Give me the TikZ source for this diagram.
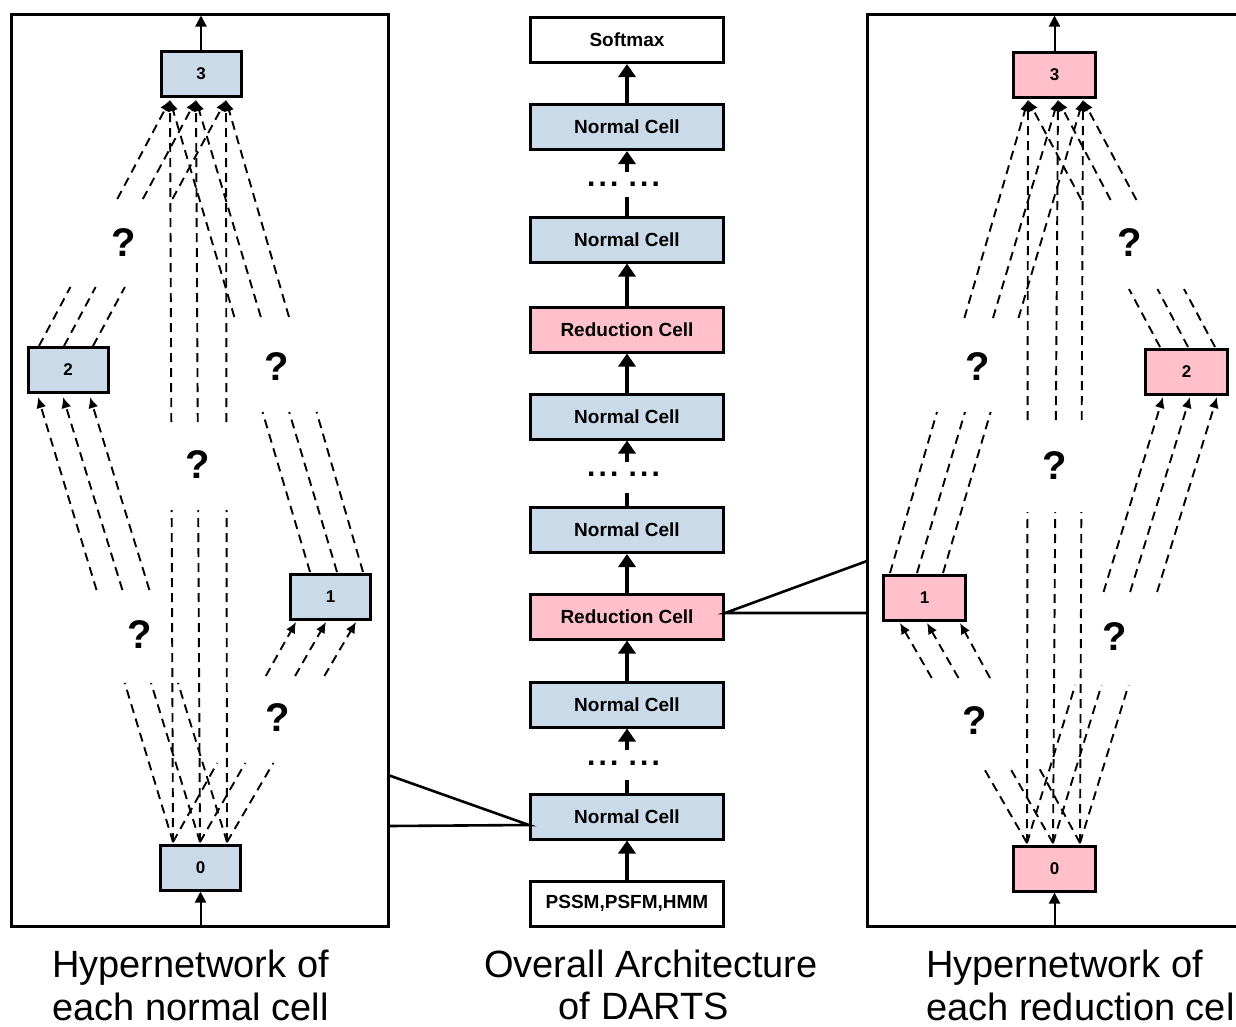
\documentclass[tikz,border=0pt]{standalone}
\usepackage{fontspec}
\setmainfont{Liberation Sans}
\usetikzlibrary{arrows.meta,calc}
\definecolor{cblue}{HTML}{CADAE9}
\definecolor{cpink}{HTML}{FFC0CB}
\newcommand\gapline[4]{%
  \draw[dline] let \p1=(#1), \p2=(#2),
    \n1={scalar((\y1+#3)/(\y1-\y2))}, \n2={scalar((\y1+#4)/(\y1-\y2))} in
    (#1) -- ($(#1)!\n1!(#2)$) ($(#1)!\n2!(#2)$) -- (#2);}
\tikzset{
  cellbox/.style={draw=black, line width=3pt, minimum width=80pt, minimum height=45pt,
    inner sep=0pt, font=\fontsize{17}{17}\selectfont\bfseries},
  archbox/.style={draw=black, line width=3pt, minimum width=193pt, minimum height=45pt,
    inner sep=0pt, font=\fontsize{19}{19}\selectfont\bfseries},
  dline/.style={line width=1.9pt, dash pattern=on 9pt off 6pt, -{Latex[length=11pt,width=10pt]}},
  qmark/.style={font=\fontsize{40}{40}\selectfont\bfseries, inner sep=0pt},
  thickarr/.style={line width=4.5pt, -{Triangle[length=13pt,width=17pt]}},
  thickline/.style={line width=4.5pt},
  thinarr/.style={line width=2pt, -{Triangle[length=11pt,width=11pt]}},
  frame/.style={line width=3pt},
  link/.style={line width=2.6pt},
  caption/.style={font=\fontsize{38}{38}\selectfont, inner sep=0pt},
  dotrow/.style={font=\fontsize{30}{30}\selectfont\bfseries, inner sep=0pt, anchor=base},
}
\newcommand\dotsrow{.\kern3.2pt.\kern3.2pt.\kern10.2pt.\kern3.2pt.\kern3.2pt.}
\begin{document}
\begin{tikzpicture}[x=1pt,y=-1pt]
\useasboundingbox (0,0) rectangle (1236,1026);
\clip (0,0) rectangle (1236,1026);
\fill[white] (0,0) rectangle (1236,1026);

% ---------- frames ----------
\draw[frame] (11,14) rectangle (388,926);
\draw[frame] (867,14) rectangle (1260,926);

% ---------- centre column ----------
\node[archbox, fill=white] (soft) at (627,40) {Softmax};
\node[archbox, fill=cblue] (nc1) at (627,127) {Normal Cell};
\node[archbox, fill=cblue] (nc2) at (627,239.5) {Normal Cell};
\node[archbox, fill=cpink] (rc1) at (627,329.5) {Reduction Cell};
\node[archbox, fill=cblue] (nc3) at (627,416.5) {Normal Cell};
\node[archbox, fill=cblue] (nc4) at (627,530) {Normal Cell};
\node[archbox, fill=cpink] (rc2) at (627,616.5) {Reduction Cell};
\node[archbox, fill=cblue] (nc5) at (627,704.5) {Normal Cell};
\node[archbox, fill=cblue] (nc6) at (627,816.5) {Normal Cell};
\node[archbox, fill=white] (inp) at (627,903.5) {PSSM,PSFM,HMM};

\node[dotrow] (d1) at (623.5,186) {\dotsrow};
\node[dotrow] (d2) at (623.5,476) {\dotsrow};
\node[dotrow] (d3) at (623.5,765) {\dotsrow};

\coordinate (s1a) at (627,172);
\coordinate (s1b) at (627,197);
\coordinate (s2a) at (627,462);
\coordinate (s2b) at (627,493);
\coordinate (s3a) at (627,750);
\coordinate (s3b) at (627,780);

\draw[thickarr] (inp.north) -- (nc6.south);
\draw[thickline] (nc6.north) -- (s3b);
\draw[thickarr] (s3a) -- (nc5.south);
\draw[thickarr] (nc5.north) -- (rc2.south);
\draw[thickarr] (rc2.north) -- (nc4.south);
\draw[thickline] (nc4.north) -- (s2b);
\draw[thickarr] (s2a) -- (nc3.south);
\draw[thickarr] (nc3.north) -- (rc1.south);
\draw[thickarr] (rc1.north) -- (nc2.south);
\draw[thickline] (nc2.north) -- (s1b);
\draw[thickarr] (s1a) -- (nc1.south);
\draw[thickarr] (nc1.north) -- (soft.south);

% links to the hypernetworks
\coordinate (nc6l) at (529,825);
\coordinate (LFa) at (388,775);
\coordinate (LFb) at (388,826);
\draw[link] (LFa) -- (nc6l) -- (LFb);
\coordinate (rc2r) at (725,613);
\coordinate (RFa) at (867,561);
\coordinate (RFb) at (867,613);
\draw[link] (RFa) -- (rc2r) -- (RFb);

% ---------- left hypernetwork (normal cell) ----------
\node[cellbox, fill=cblue] (L3) at (201,74) {3};
\node[cellbox, fill=cblue] (L2) at (68,370) {2};
\node[cellbox, fill=cblue] (L1) at (330.5,597) {1};
\node[cellbox, fill=cblue] (L0) at (200.5,867.5) {0};

\coordinate (Ltop) at (201,15.5);
\coordinate (Lbot) at (200.5,924.5);
\draw[thinarr] (L3.north) -- (Ltop);
\draw[thinarr] (Lbot) -- (L0.south);

\coordinate (L3i1) at (170,100); \coordinate (L3i2) at (196,100); \coordinate (L3i3) at (226,100);
\coordinate (L0o1) at (173,842); \coordinate (L0o2) at (200,842); \coordinate (L0o3) at (227,842);
\coordinate (L2i1) at (38,397);  \coordinate (L2i2) at (63,397);  \coordinate (L2i3) at (90,397);
\coordinate (L2o1) at (39,346);  \coordinate (L2o2) at (64,346);  \coordinate (L2o3) at (93,346);
\coordinate (L1i1) at (296,622); \coordinate (L1i2) at (326,622); \coordinate (L1i3) at (356,622);
\coordinate (L1o1) at (310,572); \coordinate (L1o2) at (337,572); \coordinate (L1o3) at (363,572);

\foreach \k in {1,2,3} {
  \gapline{L0o\k}{L1i\k}{763}{676}
  \gapline{L0o\k}{L2i\k}{683}{590}
  \gapline{L0o\k}{L3i\k}{510}{422}
  \gapline{L1o\k}{L3i\k}{412}{317}
  \gapline{L2o\k}{L3i\k}{287}{199}
}

\node[qmark] (Lq23) at (124,243) {?};
\node[qmark] (Lq13) at (277,367) {?};
\node[qmark] (Lq03) at (198,465) {?};
\node[qmark] (Lq02) at (140,635) {?};
\node[qmark] (Lq01) at (278,718) {?};

% ---------- right hypernetwork (reduction cell) ----------
\node[cellbox, fill=cpink, minimum width=82pt] (R3) at (1054.5,75) {3};
\node[cellbox, fill=cpink, minimum width=82pt] (R2) at (1186.5,372) {2};
\node[cellbox, fill=cpink, minimum width=82pt] (R1) at (924.5,598) {1};
\node[cellbox, fill=cpink, minimum width=82pt] (R0) at (1054.5,868.5) {0};

\coordinate (Rtop) at (1054.5,15.5);
\coordinate (Rbot) at (1054.5,924.5);
\draw[thinarr] (R3.north) -- (Rtop);
\draw[thinarr] (Rbot) -- (R0.south);

\coordinate (R3i1) at (1028,100); \coordinate (R3i2) at (1058,100); \coordinate (R3i3) at (1083,100);
\coordinate (R0o1) at (1027,843); \coordinate (R0o2) at (1053,843); \coordinate (R0o3) at (1080,843);
\coordinate (R1i1) at (900,623);  \coordinate (R1i2) at (927,623);  \coordinate (R1i3) at (960,623);
\coordinate (R1o1) at (890,573);  \coordinate (R1o2) at (917,573);  \coordinate (R1o3) at (943,573);
\coordinate (R2i1) at (1163,397); \coordinate (R2i2) at (1190,397); \coordinate (R2i3) at (1217,397);
\coordinate (R2o1) at (1160,347); \coordinate (R2o2) at (1188,347); \coordinate (R2o3) at (1215,347);

\foreach \k in {1,2,3} {
  \gapline{R0o\k}{R1i\k}{767}{678}
  \gapline{R0o\k}{R2i\k}{685}{592}
  \gapline{R0o\k}{R3i\k}{512}{420}
  \gapline{R1o\k}{R3i\k}{412}{318}
  \gapline{R2o\k}{R3i\k}{289}{200}
}

\node[qmark] (Rq23) at (1130,243) {?};
\node[qmark] (Rq13) at (978,367) {?};
\node[qmark] (Rq03) at (1055,466) {?};
\node[qmark] (Rq02) at (1115,637) {?};
\node[qmark] (Rq01) at (975,721) {?};

% ---------- captions ----------
\node[caption, anchor=base west] (capL1) at (52,977) {Hypernetwork of};
\node[caption, anchor=base west] (capL2) at (52,1020) {each normal cell};
\node[caption, anchor=base] (capC1) at (651,977) {Overall Architecture};
\node[caption, anchor=base] (capC2) at (644,1019) {of DARTS};
\node[caption, anchor=base west] (capR1) at (926,977) {Hypernetwork of};
\node[caption, anchor=base west] (capR2) at (926,1020) {each reduction cell};
\end{tikzpicture}
\end{document}
